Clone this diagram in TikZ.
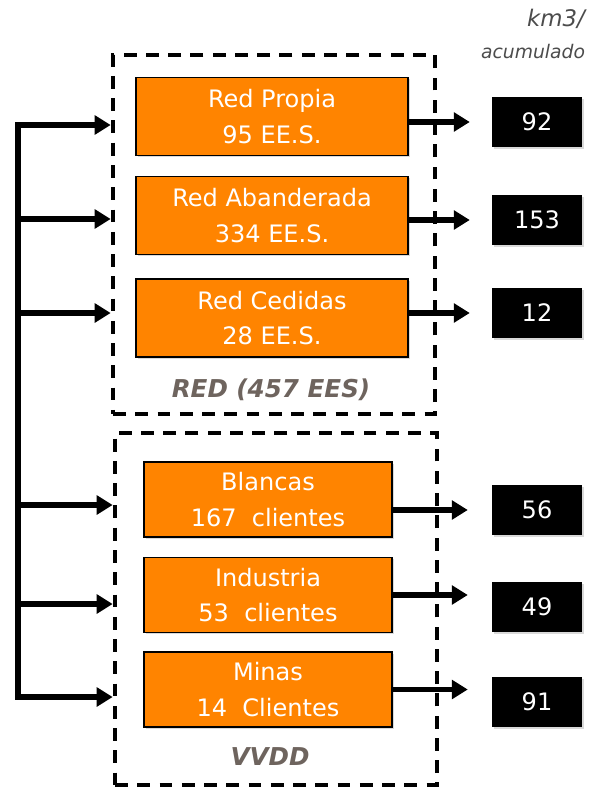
\documentclass[tikz,border=0pt]{standalone}
\usepackage{fontspec}
\setmainfont{DejaVu Sans}
\usetikzlibrary{arrows.meta,shadows,fit}
\definecolor{naranja}{HTML}{FF8400}
\definecolor{grisetq}{HTML}{6E645E}
\tikzset{
    caja/.style={draw=black, line width=1.5pt, fill=naranja, text=white, align=center,
        inner sep=0pt, font=\fontsize{20.5}{30}\selectfont,
        drop shadow={opacity=0.3, shadow xshift=1.5pt, shadow yshift=-1.5pt}},
    cajared/.style={caja, minimum width=8.16cm, minimum height=2.34cm},
    cajavvdd/.style={caja, minimum width=7.44cm, minimum height=2.25cm},
    volumen/.style={fill=black, text=white, inner sep=0pt, minimum width=2.7cm, minimum height=1.5cm,
        font=\fontsize{20.5}{24}\selectfont,
        drop shadow={opacity=0.3, shadow xshift=1.5pt, shadow yshift=-1.5pt}},
    grupo/.style={draw, line width=4pt, dash pattern=on 11pt off 8pt, inner sep=0pt},
    flecha/.style={line width=4.6pt, -{Triangle[length=4.8mm,width=5.6mm]}},
    etiqueta/.style={text=grisetq, font=\fontsize{21}{25}\selectfont\bfseries\itshape}
}
\begin{document}
\begin{tikzpicture}[x=0.03cm, y=-0.03cm]
    \useasboundingbox (0,0) rectangle (601,788);

    % unidad
    \node[text=black!70, font=\fontsize{19.5}{22}\selectfont\itshape] (unidad) at (556,19) {km3/};
    \node[text=black!70, font=\fontsize{16}{19}\selectfont\itshape] (acum) at (533,52) {acumulado};

    % Red
    \node[cajared] (propia) at (272,116.5) {Red Propia\\95 EE.S.};
    \node[cajared] (aband) at (272,215.5) {Red Abanderada\\334 EE.S.};
    \node[cajared] (cedidas) at (272,318) {Red Cedidas\\28 EE.S.};
    \node[etiqueta] (redlbl) at (271,390) {RED (457 EES)};
    \coordinate (redtl) at (113,55);
    \coordinate (redbr) at (435,414);
    \node[grupo, fit=(redtl)(redbr)] (red) {};

    % VVDD
    \node[cajavvdd] (blancas) at (268,499.5) {Blancas\\167~~clientes};
    \node[cajavvdd] (industria) at (268,595) {Industria\\53~~clientes};
    \node[cajavvdd] (minas) at (268,689.5) {Minas\\14~~Clientes};
    \node[etiqueta] (vvddlbl) at (270,757) {VVDD};
    \coordinate (vvddtl) at (115,433);
    \coordinate (vvddbr) at (437,785);
    \node[grupo, fit=(vvddtl)(vvddbr)] (vvdd) {};

    % km3 acumulado
    \node[volumen] (v92) at (537,122) {92};
    \node[volumen] (v153) at (537,220) {153};
    \node[volumen] (v12) at (537,313) {12};
    \node[volumen] (v56) at (537,510) {56};
    \node[volumen] (v49) at (537,607) {49};
    \node[volumen] (v91) at (537,702) {91};

    % flechas de salida
    \draw[flecha, shorten >=0.66cm] (propia.east |- v92) -- (v92.west);
    \draw[flecha, shorten >=0.66cm] (aband.east |- v153) -- (v153.west);
    \draw[flecha, shorten >=0.66cm] (cedidas.east |- v12) -- (v12.west);
    \draw[flecha, shorten >=0.72cm] (blancas.east |- v56) -- (v56.west);
    \draw[flecha, shorten >=0.72cm] (industria.east) -- (industria.east -| v49.west);
    \draw[flecha, shorten >=0.72cm] (minas.east) -- (minas.east -| v91.west);

    % distribucion
    \coordinate (b1) at (18,125);
    \coordinate (b2) at (18,219);
    \coordinate (b3) at (18,313);
    \coordinate (b4) at (18,505);
    \coordinate (b5) at (18,604);
    \coordinate (b6) at (18,697);
    \draw[line width=4.6pt] ([yshift=2.3pt]b1) -- ([yshift=-2.3pt]b6);
    \foreach \b in {b1,b2,b3}
        \draw[flecha] (\b) -- (\b -| red.west);
    \foreach \b in {b4,b5,b6}
        \draw[flecha] (\b) -- (\b -| vvdd.west);
\end{tikzpicture}
\end{document}
